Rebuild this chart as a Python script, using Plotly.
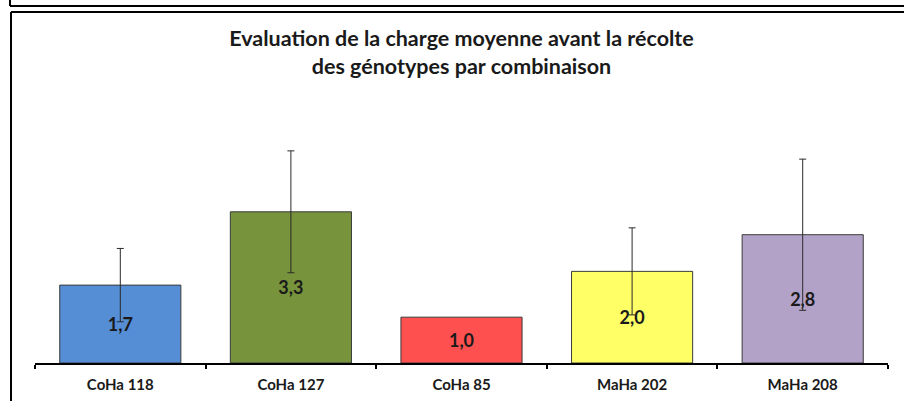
import plotly.graph_objects as go

genotypes = ['CoHa 118', 'CoHa 127', 'CoHa 85', 'MaHa 202', 'MaHa 208']
charge = [1.7, 3.3, 1.0, 2.0, 2.8]
ecart = [0.8, 1.33, None, 0.95, 1.65]
bar_colors = ['#558ED5', '#77933C', '#FF5050', '#FFFF66', '#B3A2C7']

FONT = 'Lato'

fig = go.Figure()
fig.add_trace(go.Bar(
    x=genotypes, y=charge,
    marker=dict(color=bar_colors, line=dict(color='#3a3a3a', width=1)),
    texttemplate='%{y:.1f}', textposition='inside', insidetextanchor='middle',
    textfont=dict(family=FONT, size=18, color='#1a1a1a', weight='bold'),
    textangle=0,
    hoverinfo='skip',
))

# error bars only where an ecart-type exists (none on CoHa 85)
err_x = [g for g, e in zip(genotypes, ecart) if e is not None]
err_y = [c for c, e in zip(charge, ecart) if e is not None]
err_e = [e for e in ecart if e is not None]
fig.add_trace(go.Scatter(
    x=err_x, y=err_y, mode='markers', marker=dict(size=0.1, color='rgba(0,0,0,0)'),
    error_y=dict(type='data', array=err_e, color='#2a2a2a', thickness=1, width=3.5),
    hoverinfo='skip',
))

# frame lines around the chart area (paper coords, plot = 35..888 x 100..363 px)
def px_x(x):
    return (x - 35) / 853


def px_y(y):
    return (363 - y) / 263


frame = [
    (10, 6, 904, 6),
    (10, 0, 10, 6),
    (11, 12, 904, 12),
    (11, 12, 11, 401),
]
shapes = [dict(type='line', xref='paper', yref='paper',
               x0=px_x(a), y0=px_y(b), x1=px_x(c), y1=px_y(d),
               line=dict(color='black', width=2)) for a, b, c, d in frame]

fig.update_layout(
    width=904, height=401,
    margin=dict(l=35, r=16, t=100, b=38),
    paper_bgcolor='white', plot_bgcolor='white',
    separators=', ',
    showlegend=False,
    bargap=0.29,
    title=dict(text='Evaluation de la charge moyenne avant la récolte<br>des génotypes par combinaison',
               x=0.5, xref='paper', xanchor='center', y=0.885, yanchor='top',
               font=dict(family=FONT, size=21.5, color='#1a1a1a', weight='bold')),
    xaxis=dict(showline=True, linecolor='black', linewidth=2,
               ticks='outside', tickson='boundaries', ticklen=4, tickwidth=2, tickcolor='black',
               ticklabelstandoff=7, automargin=False,
               tickfont=dict(family=FONT, size=15, color='#1a1a1a', weight='bold'),
               showgrid=False),
    yaxis=dict(range=[0, 5.74], visible=False, showgrid=False, automargin=False),
    shapes=shapes,
)

fig.write_html('out.html', config={'displayModeBar': False},
               post_script="document.body.style.margin='0';")
